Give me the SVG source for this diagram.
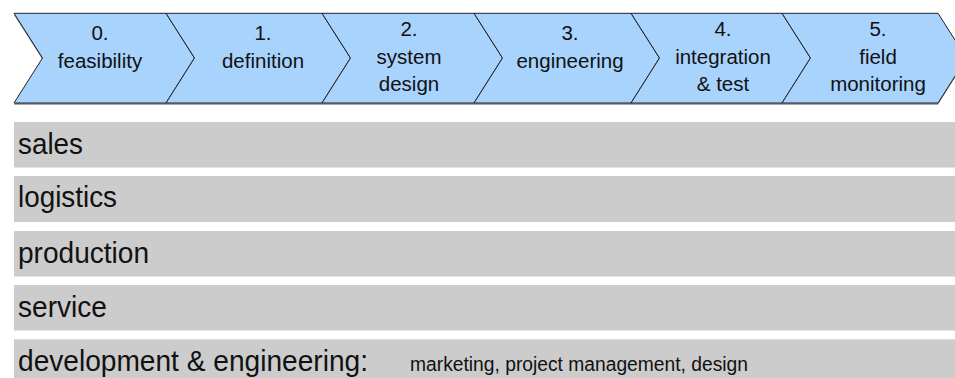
<svg xmlns="http://www.w3.org/2000/svg" width="955" height="378" viewBox="0 0 955 378">
<style>
.chev{fill:#a8d3fd;stroke:#222;stroke-width:1;stroke-linejoin:miter}
.shadow{fill:#8c8c8c;stroke:none}
.ph{font-family:"Liberation Sans",Arial,sans-serif;font-size:20.5px;fill:#111;text-anchor:middle}
.bar{fill:#cccccc}
.lane{font-family:"Liberation Sans",Arial,sans-serif;font-size:29.5px;fill:#111}
.small{font-family:"Liberation Sans",Arial,sans-serif;font-size:20px;fill:#111}
</style>
<rect width="955" height="378" fill="#ffffff"/>
<g id="shadows">
<polygon class="shadow" points="14,15 938,15 966.5,59.7 938,104.7 14,104.7 42.5,59.7"/>
</g>
<g id="phase0">
<polygon class="chev" points="14,13.3 166,13.3 194.5,58 166,103 14,103 42.5,58"/>
<text class="ph" x="100" y="39.5">0.</text>
<text class="ph" x="100" y="67.5">feasibility</text>
</g>
<g id="phase1">
<polygon class="chev" points="166,13.3 322,13.3 350.5,58 322,103 166,103 194.5,58"/>
<text class="ph" x="263" y="39.5">1.</text>
<text class="ph" x="263" y="67.5">definition</text>
</g>
<g id="phase2">
<polygon class="chev" points="322,13.3 474,13.3 502.5,58 474,103 322,103 350.5,58"/>
<text class="ph" x="409" y="35.7">2.</text>
<text class="ph" x="409" y="63.5">system</text>
<text class="ph" x="409" y="91">design</text>
</g>
<g id="phase3">
<polygon class="chev" points="474,13.3 631,13.3 659.5,58 631,103 474,103 502.5,58"/>
<text class="ph" x="570" y="39.5">3.</text>
<text class="ph" x="570" y="67.5">engineering</text>
</g>
<g id="phase4">
<polygon class="chev" points="631,13.3 782,13.3 810.5,58 782,103 631,103 659.5,58"/>
<text class="ph" x="723" y="35.7">4.</text>
<text class="ph" x="723" y="63.5">integration</text>
<text class="ph" x="723" y="91">&amp; test</text>
</g>
<g id="phase5">
<polygon class="chev" points="782,13.3 938,13.3 966.5,58 938,103 782,103 810.5,58"/>
<text class="ph" x="878" y="35.7">5.</text>
<text class="ph" x="878" y="63.5">field</text>
<text class="ph" x="878" y="91">monitoring</text>
</g>
<g id="lane-sales">
<rect class="bar" x="14" y="122" width="945" height="45.5"/>
<text class="lane" x="18" y="154" textLength="65" lengthAdjust="spacingAndGlyphs">sales</text>
</g>
<g id="lane-logistics">
<rect class="bar" x="14" y="176" width="945" height="46"/>
<text class="lane" x="18" y="207" textLength="99" lengthAdjust="spacingAndGlyphs">logistics</text>
</g>
<g id="lane-production">
<rect class="bar" x="14" y="231" width="945" height="45.5"/>
<text class="lane" x="18" y="263" textLength="131" lengthAdjust="spacingAndGlyphs">production</text>
</g>
<g id="lane-service">
<rect class="bar" x="14" y="285" width="945" height="45.5"/>
<text class="lane" x="18" y="317" textLength="89" lengthAdjust="spacingAndGlyphs">service</text>
</g>
<g id="lane-development">
<rect class="bar" x="14" y="339.3" width="945" height="45"/>
<text class="lane" x="18" y="371" textLength="350" lengthAdjust="spacingAndGlyphs">development &amp; engineering:</text>
<text class="small" x="410" y="371" textLength="338" lengthAdjust="spacingAndGlyphs">marketing, project management, design</text>
</g>
</svg>
